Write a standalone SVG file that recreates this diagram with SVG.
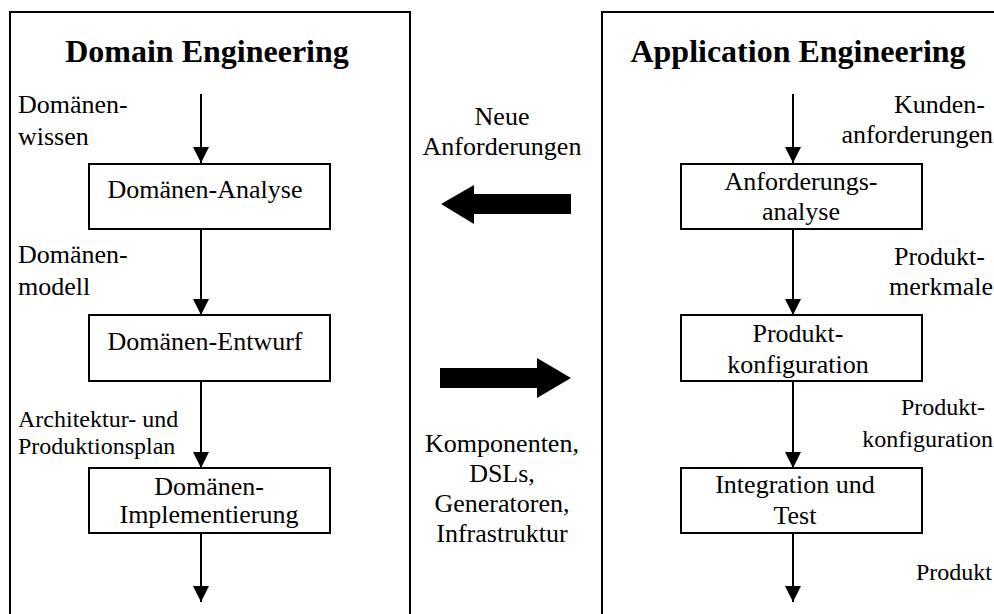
<svg xmlns="http://www.w3.org/2000/svg" width="994" height="614" viewBox="0 0 994 614">
<defs>
<style>
text{font-family:"Liberation Serif","Times New Roman",serif;fill:#000}
.t{font-size:32px;font-weight:bold}
.m{font-size:26px}
.s{font-size:24px}
.c{text-anchor:middle}
.e{text-anchor:end}
.box{fill:#fff;stroke:#000;stroke-width:2}
.panel{fill:none;stroke:#000;stroke-width:2}
.ln{stroke:#000;stroke-width:2;fill:none;marker-end:url(#ah)}
</style>
<marker id="ah" viewBox="0 0 16 16" refX="16" refY="8" markerWidth="16" markerHeight="16" markerUnits="userSpaceOnUse" orient="auto">
<path d="M0,0 L16,8 L0,16 Z" fill="#000"/>
</marker>
</defs>
<rect width="994" height="614" fill="#fff"/>
<g id="panel-domain">
<rect class="panel" x="10" y="12" width="400" height="620"/>
<text class="t c" x="207" y="62">Domain Engineering</text>
</g>
<g id="panel-application">
<rect class="panel" x="602" y="12" width="420" height="620"/>
<text class="t c" x="798" y="62">Application Engineering</text>
</g>
<g id="connectors">
<line class="ln" x1="201" y1="94" x2="201" y2="163"/>
<line class="ln" x1="201" y1="229" x2="201" y2="315"/>
<line class="ln" x1="201" y1="381" x2="201" y2="468"/>
<line class="ln" x1="201" y1="533" x2="201" y2="602"/>
<line class="ln" x1="793" y1="94" x2="793" y2="163"/>
<line class="ln" x1="793" y1="229" x2="793" y2="315"/>
<line class="ln" x1="793" y1="381" x2="793" y2="468"/>
<line class="ln" x1="793" y1="533" x2="793" y2="602"/>
<polygon id="arrow-left" points="441,204 474,185 474,194 571,194 571,214 474,214 474,224" fill="#000"/>
<polygon id="arrow-right" points="571,378 537,358 537,368 440,368 440,388 537,388 537,398" fill="#000"/>
</g>
<g id="label-domaenenwissen">
<text class="m" x="18" y="113">Domänen-</text>
<text class="m" x="18" y="145">wissen</text>
</g>
<g id="node-domaenen-analyse">
<rect class="box" x="89" y="164" width="241" height="65"/>
<text class="m c" x="205" y="198">Domänen-Analyse</text>
</g>
<g id="label-domaenenmodell">
<text class="m" x="18" y="263">Domänen-</text>
<text class="m" x="18" y="295">modell</text>
</g>
<g id="node-domaenen-entwurf">
<rect class="box" x="89" y="315" width="241" height="66"/>
<text class="m c" x="205" y="350">Domänen-Entwurf</text>
</g>
<g id="label-architektur">
<text class="s" x="18" y="427">Architektur- und</text>
<text class="s" x="18" y="454">Produktionsplan</text>
</g>
<g id="node-domaenen-implementierung">
<rect class="box" x="89" y="468" width="241" height="65"/>
<text class="m c" x="209" y="495">Domänen-</text>
<text class="m c" x="209" y="523">Implementierung</text>
</g>
<g id="label-neue-anforderungen">
<text class="m c" x="502" y="125">Neue</text>
<text class="m c" x="502" y="155">Anforderungen</text>
</g>
<g id="label-komponenten">
<text class="m c" x="502" y="452">Komponenten,</text>
<text class="m c" x="502" y="482">DSLs,</text>
<text class="m c" x="502" y="512">Generatoren,</text>
<text class="m c" x="502" y="542">Infrastruktur</text>
</g>
<g id="label-kundenanforderungen">
<text class="m e" x="985" y="113">Kunden-</text>
<text class="m e" x="993" y="143">anforderungen</text>
</g>
<g id="node-anforderungsanalyse">
<rect class="box" x="681" y="164" width="241" height="65"/>
<text class="m c" x="801" y="190">Anforderungs-</text>
<text class="m c" x="801" y="220">analyse</text>
</g>
<g id="label-produktmerkmale">
<text class="m e" x="985" y="265">Produkt-</text>
<text class="m e" x="993" y="295">merkmale</text>
</g>
<g id="node-produktkonfiguration">
<rect class="box" x="681" y="315" width="241" height="66"/>
<text class="m c" x="798" y="342">Produkt-</text>
<text class="m c" x="798" y="373">konfiguration</text>
</g>
<g id="label-produktkonfiguration">
<text class="s e" x="985" y="415">Produkt-</text>
<text class="s e" x="993" y="447">konfiguration</text>
</g>
<g id="node-integration">
<rect class="box" x="681" y="468" width="241" height="65"/>
<text class="m c" x="795" y="493">Integration und</text>
<text class="m c" x="795" y="524">Test</text>
</g>
<g id="label-produkt">
<text class="s e" x="992" y="580">Produkt</text>
</g>
</svg>
